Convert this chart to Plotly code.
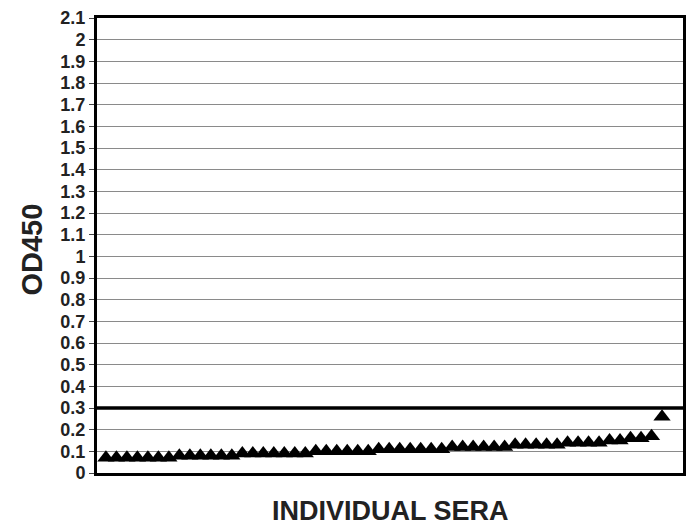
import plotly.graph_objects as go

# OD450 readings of individual sera, sorted ascending
sera_index = list(range(1, 55))
od450 = [
    0.07, 0.07, 0.07, 0.07, 0.07, 0.07, 0.07,
    0.08, 0.08, 0.08, 0.08, 0.08, 0.08,
    0.09, 0.09, 0.09, 0.09, 0.09, 0.09, 0.09,
    0.10, 0.10, 0.10, 0.10, 0.10, 0.10,
    0.11, 0.11, 0.11, 0.11, 0.11, 0.11, 0.11,
    0.12, 0.12, 0.12, 0.12, 0.12, 0.12,
    0.13, 0.13, 0.13, 0.13, 0.13,
    0.14, 0.14, 0.14, 0.14,
    0.15, 0.15,
    0.16, 0.16,
    0.17,
    0.26,
]
cutoff = 0.3
y_ticks = [round(i * 0.1, 1) for i in range(22)]
y_tick_labels = [f"{v:g}" for v in y_ticks]

fig = go.Figure()
fig.add_trace(go.Scatter(
    x=sera_index, y=od450, mode="markers",
    marker=dict(symbol="triangle-up", size=15, color="black"),
    showlegend=False, cliponaxis=False,
))

# positivity cut-off line
fig.add_shape(type="line", xref="paper", x0=0, x1=1, yref="y", y0=cutoff, y1=cutoff,
              line=dict(color="black", width=3.5))

font_bold = "Liberation Sans"
fig.update_layout(
    width=694, height=529,
    margin=dict(l=97, r=8, t=14, b=56),
    paper_bgcolor="white", plot_bgcolor="white",
    font=dict(family=font_bold, color="black"),
    xaxis=dict(range=[0.15, 56.0], showticklabels=False, showgrid=False, zeroline=False,
               showline=True, linecolor="black", linewidth=3, mirror=True, ticks=""),
    yaxis=dict(range=[0, 2.1], tickvals=y_ticks, ticktext=[f"<b>{t}</b>" for t in y_tick_labels],
               tickfont=dict(size=18, family=font_bold, color="#222"),
               showgrid=True, gridcolor="#8a8a8a", gridwidth=1, zeroline=False,
               showline=True, linecolor="black", linewidth=3, mirror=True,
               ticks="outside", ticklen=5, tickcolor="#444", tickwidth=1),
    annotations=[
        dict(text="<b>OD450</b>", xref="paper", yref="paper", x=-0.11, y=0.49,
             xanchor="center", yanchor="middle", textangle=-90, showarrow=False,
             font=dict(size=29, family=font_bold, color="#222")),
        dict(text="<b>INDIVIDUAL SERA</b>", xref="paper", yref="paper", x=0.5, y=-0.084,
             xanchor="center", yanchor="middle", showarrow=False,
             font=dict(size=27, family=font_bold, color="#222")),
    ],
)

fig.write_html("out.html")
